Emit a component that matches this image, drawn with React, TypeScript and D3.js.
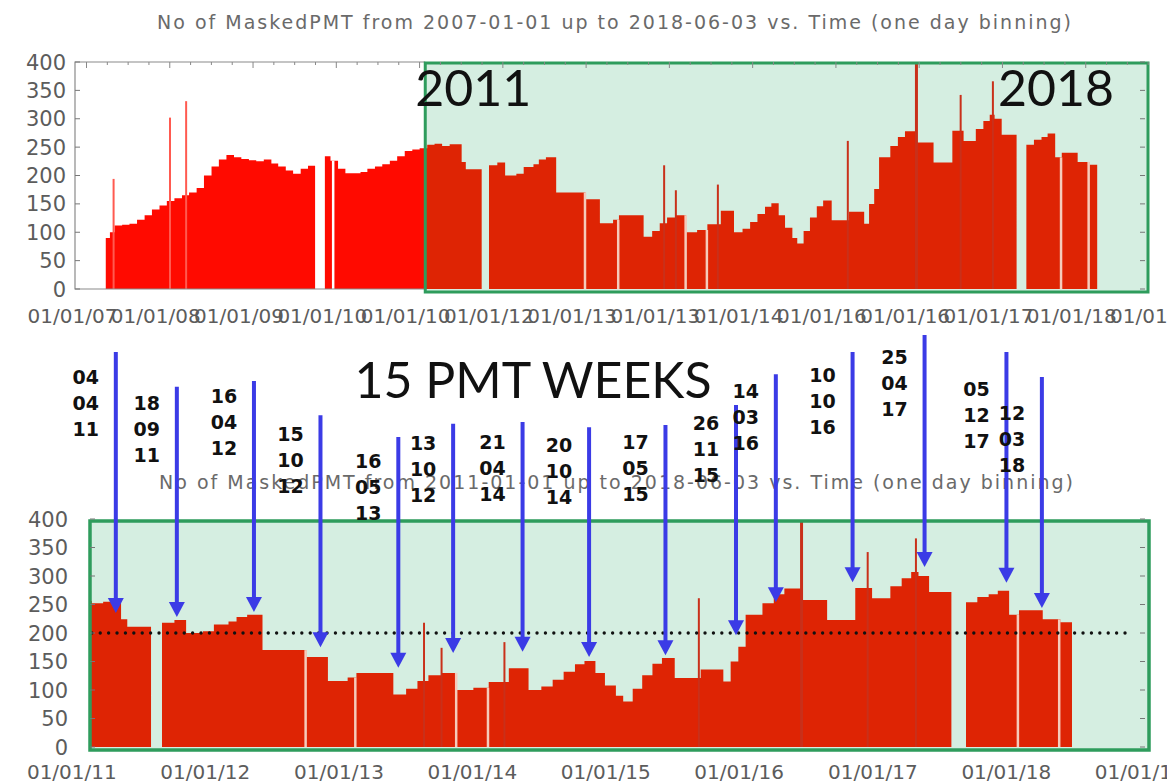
import { useEffect, useRef } from 'react'
import * as d3 from 'd3'

// number of masked PMTs, one-day binning, read off as step levels:
// each value holds from its date until the next date
const binStarts = [
  '2007-03-26', '2007-04-12', '2007-05-01', '2007-06-01', '2007-07-01', '2007-08-01', '2007-09-01', '2007-10-01',
  '2007-11-01', '2007-12-01', '2008-01-01', '2008-02-01', '2008-03-01', '2008-04-01', '2008-05-01', '2008-06-01',
  '2008-07-01', '2008-08-01', '2008-09-01', '2008-10-01', '2008-11-01', '2008-12-01', '2009-01-01', '2009-02-01',
  '2009-03-01', '2009-04-01', '2009-05-01', '2009-06-01', '2009-07-01', '2009-07-30', '2009-09-08', '2009-10-01',
  '2009-11-01', '2009-12-01', '2010-02-01', '2010-03-01', '2010-04-01', '2010-05-01', '2010-06-01', '2010-07-01',
  '2010-08-01', '2010-09-01', '2010-10-01', '2010-11-01', '2010-12-01', '2011-01-01', '2011-02-01', '2011-03-22',
  '2011-04-08', '2011-06-12', '2011-07-12', '2011-08-15', '2011-09-16', '2011-11-01', '2011-12-01', '2012-01-10',
  '2012-02-01', '2012-03-01', '2012-04-12', '2012-08-10', '2012-10-08', '2012-12-01', '2012-12-25', '2013-04-05',
  '2013-05-10', '2013-06-10', '2013-07-10', '2013-08-15', '2013-09-26', '2013-11-10', '2013-12-22', '2014-02-15',
  '2014-04-10', '2014-05-15', '2014-06-15', '2014-07-15', '2014-08-15', '2014-09-10', '2014-10-10', '2014-11-05',
  '2014-12-05', '2014-12-25', '2015-01-20', '2015-02-15', '2015-03-15', '2015-04-10', '2015-05-15', '2015-07-25',
  '2015-09-25', '2015-10-15', '2015-11-05', '2015-11-25', '2016-01-10', '2016-02-10', '2016-03-10', '2016-04-25',
  '2016-07-05', '2016-09-20', '2016-11-05', '2016-12-25', '2017-01-25', '2017-02-20', '2017-03-12', '2017-04-10',
  '2017-06-10', '2017-07-20', '2017-08-20', '2017-09-20', '2017-10-15', '2017-11-15', '2017-12-12', '2018-02-15',
  '2018-04-04',
]
const maskedPmt = [
  90, 100, 112, 113, 115, 122, 130, 140,
  147, 155, 160, 165, 170, 178, 200, 216,
  228, 236, 232, 229, 227, 225, 228, 221,
  216, 209, 203, 212, 217, 0, 234, 226,
  212, 204, 206, 212, 216, 220, 226, 234,
  243, 246, 248, 254, 256, 252, 255, 224,
  211, 0, 218, 223, 200, 203, 215, 220,
  228, 232, 170, 158, 116, 122, 130, 92,
  102, 116, 126, 130, 100, 104, 114, 138,
  100, 106, 118, 132, 145, 151, 130, 108,
  90, 80, 102, 126, 146, 156, 121, 136,
  115, 150, 176, 232, 252, 268, 278, 258,
  223, 279, 261, 282, 296, 307, 300, 272,
  0, 254, 263, 268, 274, 232, 240, 224,
  219,
]
const lastDay = '2018-05-06'

// single empty days and single-day outliers
const dropoutDays = ['2009-10-12', '2012-08-08', '2012-12-22', '2013-09-24', '2013-12-20', '2017-12-09', '2018-04-01']
const spikeDays = ['2007-04-27', '2007-12-14', '2008-02-18', '2013-06-28', '2013-08-15', '2014-02-03', '2015-07-20', '2016-04-26', '2016-10-24', '2017-03-05']
const spikeCounts = [194, 302, 331, 218, 174, 184, 261, 398, 342, 366]

const highlightFrom = '2010-10-24'
const refLevel = 200
const refUntil = '2018-10-12'

const yTicks = [0, 50, 100, 150, 200, 250, 300, 350, 400]
const fullRangeTicks = ['01/01/07', '01/01/08', '01/01/09', '01/01/10', '01/01/10', '01/01/12', '01/01/13', '01/01/13', '01/01/14', '01/01/16', '01/01/16', '01/01/17', '01/01/18', '01/01/18']
const zoomYears = [2011, 2012, 2013, 2014, 2015, 2016, 2017, 2018, 2019]

// the 15 PMT weeks
const weekDates = ['2011-04-04', '2011-09-18', '2012-04-16', '2012-10-15', '2013-05-16', '2013-10-13', '2014-04-21', '2014-10-20', '2015-05-17', '2015-11-26', '2016-03-14', '2016-10-10', '2017-04-25', '2017-12-05', '2018-03-12']
const weekLabels = ['04 04 11', '18 09 11', '16 04 12', '15 10 12', '16 05 13', '13 10 12', '21 04 14', '20 10 14', '17 05 15', '26 11 15', '14 03 16', '10 10 16', '25 04 17', '05 12 17', '12 03 18']
const arrowTail = [693, 632, 642, 582, 544, 567, 570, 561, 565, 600, 654, 693, 723, 693, 649]
const arrowTip = [235, 228, 237, 175, 139, 165, 167, 158, 161, 196, 254, 289, 316, 288, 244]
const labelLevel = [649, 604, 616, 549, 502, 533, 535, 530, 535, 568, 625, 653, 684, 628, 586]

const parse = d3.timeParse('%Y-%m-%d')

const RED = '#ff0a00'
const RED_DARK = '#de2404'
const GREEN_FILL = '#d5eee1'
const GREEN_LINE = '#2e9c5c'
const BLUE = '#3b3be6'
const AXIS_GRAY = '#5c5c5c'
const FONT = 'DejaVu Sans'

const App = () => {
  const svgRef = useRef(null)

  useEffect(() => {
    const svg = d3.select(svgRef.current)
    svg.selectAll('*').remove()

    const series = binStarts.map((d, i) => ({ date: parse(d), v: maskedPmt[i] }))
    series.push({ date: parse(lastDay), v: 0 })
    const bisect = d3.bisector(d => d.date).right
    const levelAt = day => series[Math.max(0, bisect(series, day) - 1)].v

    const histogram = (g, x, y, fill) => {
      const area = d3.area()
        .curve(d3.curveStepAfter)
        .x(d => x(d.date))
        .y0(y(0))
        .y1(d => y(d.v))
      g.append('path').datum(series).attr('d', area).attr('fill', fill)
    }

    const extras = (g, x, y, dropColor, spikeColor) => {
      g.selectAll('.spike')
        .data(spikeDays)
        .enter()
        .append('line')
        .attr('x1', d => x(parse(d)))
        .attr('x2', d => x(parse(d)))
        .attr('y1', y(0))
        .attr('y2', (d, i) => y(spikeCounts[i]))
        .attr('stroke', spikeColor)
        .attr('stroke-width', (d, i) => spikeCounts[i] > 390 ? 3 : 2)
      g.selectAll('.drop')
        .data(dropoutDays)
        .enter()
        .append('line')
        .attr('x1', d => x(parse(d)))
        .attr('x2', d => x(parse(d)))
        .attr('y1', y(0))
        .attr('y2', d => y(levelAt(parse(d))))
        .attr('stroke', dropColor)
        .attr('stroke-width', 2.5)
    }

    const yLabels = (x0, y, x) => {
      svg.append('g')
        .selectAll('text')
        .data(yTicks)
        .enter()
        .append('text')
        .attr('x', x0)
        .attr('y', d => y(d))
        .attr('dy', '0.36em')
        .attr('text-anchor', 'end')
        .style('font-family', FONT)
        .style('font-size', '21px')
        .style('fill', AXIS_GRAY)
        .text(d => d)
      const left = x.range()[0]
      const right = x.range()[1]
      svg.append('g')
        .selectAll('line')
        .data(yTicks)
        .enter()
        .append('line')
        .attr('x1', left).attr('x2', left + 5)
        .attr('y1', d => y(d)).attr('y2', d => y(d))
        .attr('stroke', '#777').attr('stroke-width', 1)
      svg.append('g')
        .selectAll('line')
        .data(yTicks)
        .enter()
        .append('line')
        .attr('x1', right - 8).attr('x2', right - 3)
        .attr('y1', d => y(d)).attr('y2', d => y(d))
        .attr('stroke', '#777').attr('stroke-width', 1)
    }

    // ---------- full range plot ----------
    const xTop = d3.scaleTime()
      .domain([parse('2006-11-20'), parse('2018-11-30')])
      .range([75, 1148])
    const yTop = d3.scaleLinear().domain([0, 400]).range([289, 62])
    const hx = xTop(parse(highlightFrom))

    svg.append('text')
      .attr('x', 615).attr('y', 29)
      .attr('text-anchor', 'middle')
      .style('font-family', FONT).style('font-size', '19px').style('letter-spacing', '2px')
      .style('fill', '#6a6a6a')
      .text('No of MaskedPMT from 2007-01-01 up to 2018-06-03 vs. Time (one day binning)')

    const defs = svg.append('defs')
    defs.append('clipPath').attr('id', 'pre').append('rect')
      .attr('x', 0).attr('y', 0).attr('width', hx).attr('height', 400)
    defs.append('clipPath').attr('id', 'post').append('rect')
      .attr('x', hx).attr('y', 0).attr('width', 1167 - hx).attr('height', 400)

    svg.append('rect')
      .attr('x', hx).attr('y', yTop(400) + 1)
      .attr('width', xTop.range()[1] - hx).attr('height', yTop(0) - yTop(400) + 2)
      .attr('fill', GREEN_FILL)

    histogram(svg.append('g').attr('clip-path', 'url(#pre)'), xTop, yTop, RED)
    histogram(svg.append('g').attr('clip-path', 'url(#post)'), xTop, yTop, RED_DARK)
    extras(svg.append('g').attr('clip-path', 'url(#pre)'), xTop, yTop, '#ffffff', '#ff5a50')
    extras(svg.append('g').attr('clip-path', 'url(#post)'), xTop, yTop, '#f5cbbb', '#c9301a')

    // gnuplot style frame
    svg.append('path')
      .attr('d', `M${hx},${yTop(400)}H${xTop.range()[0]}V${yTop(0)}H${hx}`)
      .attr('fill', 'none').attr('stroke', '#8a8a8a').attr('stroke-width', 1.2)

    svg.append('rect')
      .attr('x', hx).attr('y', yTop(400) + 1)
      .attr('width', xTop.range()[1] - hx).attr('height', yTop(0) - yTop(400) + 2)
      .attr('fill', 'none').attr('stroke', GREEN_LINE).attr('stroke-width', 3)

    yLabels(66, yTop, xTop)

    const topTickPos = d3.scalePoint()
      .domain(d3.range(fullRangeTicks.length))
      .range([72.5, 1155])
    svg.append('g')
      .selectAll('line')
      .data(d3.range(fullRangeTicks.length * 4))
      .enter()
      .append('line')
      .attr('x1', d => topTickPos(0) + d * topTickPos.step() / 4 + 14)
      .attr('x2', d => topTickPos(0) + d * topTickPos.step() / 4 + 14)
      .attr('y1', yTop(400)).attr('y2', d => yTop(400) + (d % 4 === 0 ? 6 : 3))
      .attr('stroke', '#888').attr('stroke-width', 1)
    svg.append('g')
      .selectAll('text')
      .data(fullRangeTicks)
      .enter()
      .append('text')
      .attr('x', (d, i) => topTickPos(i))
      .attr('y', 316)
      .attr('dy', '0.36em')
      .attr('text-anchor', 'middle')
      .style('font-family', FONT).style('font-size', '20px').style('fill', AXIS_GRAY)
      .text(d => d)

    svg.append('text')
      .attr('x', hx - 10).attr('y', 106)
      .style('font-family', 'Lato').style('font-size', '50px').style('fill', '#111')
      .text('2011')
    svg.append('text')
      .attr('x', 998).attr('y', 106)
      .style('font-family', 'Lato').style('font-size', '50px').style('fill', '#111')
      .text('2018')

    // ---------- 2011 onwards plot ----------
    const xB = d3.scaleTime()
      .domain([parse('2010-12-27'), parse('2018-11-30')])
      .range([90, 1148])
    const yB = d3.scaleLinear().domain([0, 400]).range([747, 519])
    const labelShift = -20
    const arrowShift = -10

    svg.append('text')
      .attr('x', 533).attr('y', 398)
      .attr('text-anchor', 'middle')
      .style('font-family', 'Lato').style('font-size', '50px').style('fill', '#111')
      .text('15 PMT WEEKS')

    svg.append('text')
      .attr('x', 617).attr('y', 489)
      .attr('text-anchor', 'middle')
      .style('font-family', FONT).style('font-size', '19px').style('letter-spacing', '2px')
      .style('fill', '#6a6a6a')
      .text('No of MaskedPMT from 2011-01-01 up to 2018-06-03 vs. Time (one day binning)')

    svg.append('rect')
      .attr('x', xB.range()[0]).attr('y', yB(400) + 2)
      .attr('width', xB.range()[1] - xB.range()[0] + 1).attr('height', yB(0) - yB(400) + 1)
      .attr('fill', GREEN_FILL)

    defs.append('clipPath').attr('id', 'zoom').append('rect')
      .attr('x', xB.range()[0]).attr('y', 0).attr('width', xB.range()[1] - xB.range()[0]).attr('height', 784)
    const gB = svg.append('g').attr('clip-path', 'url(#zoom)')
    histogram(gB, xB, yB, RED_DARK)
    extras(gB, xB, yB, '#f5cbbb', '#c9301a')

    svg.append('line')
      .attr('x1', xB(parse('2011-01-01'))).attr('x2', xB(parse(refUntil)))
      .attr('y1', yB(refLevel)).attr('y2', yB(refLevel))
      .attr('stroke', '#111').attr('stroke-width', 3.4)
      .attr('stroke-linecap', 'round').attr('stroke-dasharray', '0 8.4')

    svg.append('rect')
      .attr('x', xB.range()[0]).attr('y', yB(400) + 2)
      .attr('width', xB.range()[1] - xB.range()[0] + 1).attr('height', yB(0) - yB(400) + 1)
      .attr('fill', 'none').attr('stroke', GREEN_LINE).attr('stroke-width', 3.5)

    yLabels(68, yB, xB)

    svg.append('g')
      .selectAll('text')
      .data(zoomYears)
      .enter()
      .append('text')
      .attr('x', d => xB(new Date(d, 0, 1)) + labelShift)
      .attr('y', 772)
      .attr('dy', '0.36em')
      .attr('text-anchor', 'middle')
      .style('font-family', FONT).style('font-size', '20px').style('fill', AXIS_GRAY)
      .text(d => `01/01/${String(d).slice(2)}`)

    // week annotations
    const weeks = svg.append('g')
    weekDates.forEach((d, i) => {
      const ax = xB(parse(d)) + arrowShift
      const tipY = yB(arrowTip[i])
      weeks.append('line')
        .attr('x1', ax).attr('x2', ax)
        .attr('y1', yB(arrowTail[i])).attr('y2', tipY - 10)
        .attr('stroke', BLUE).attr('stroke-width', 4)
      weeks.append('path')
        .attr('d', `M${ax - 8},${tipY - 15}L${ax + 8},${tipY - 15}L${ax},${tipY}Z`)
        .attr('fill', BLUE)
      weeks.append('g')
        .selectAll('text')
        .data(weekLabels[i].split(' '))
        .enter()
        .append('text')
        .attr('x', ax - 30)
        .attr('y', (t, k) => yB(labelLevel[i]) + k * 26)
        .attr('dy', '0.36em')
        .attr('text-anchor', 'middle')
        .style('font-family', FONT).style('font-weight', 'bold')
        .style('font-size', '19px').style('fill', '#111')
        .text(t => t)
    })
  }, [])

  return (
    <svg
      ref={svgRef}
      width={1167}
      height={784}
      style={{ position: 'absolute', left: 0, top: 0, background: '#fff' }}
    ></svg>
  )
}

export default App
